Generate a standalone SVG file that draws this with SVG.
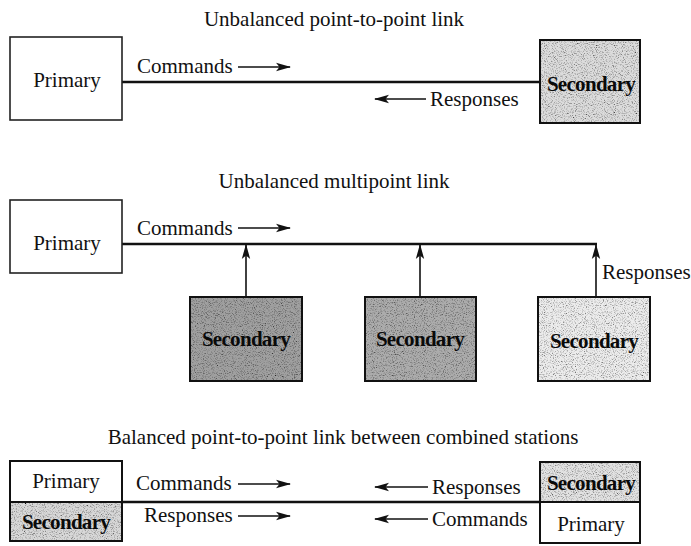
<svg xmlns="http://www.w3.org/2000/svg" width="691" height="546" viewBox="0 0 691 546">
  <style>
    .title { font-family: "Liberation Serif", "Times New Roman", serif; font-size: 21px; fill: #111; text-anchor: middle; }
    .lbl { font-family: "Liberation Serif", "Times New Roman", serif; font-size: 21px; fill: #111; }
    .nodeTxt { font-family: "Liberation Serif", "Times New Roman", serif; font-size: 21px; fill: #111; text-anchor: middle; }
    .secTxt { font-family: "Liberation Serif", "Times New Roman", serif; font-size: 21px; font-weight: bold; fill: #0a0a0a; text-anchor: middle; letter-spacing: -0.7px; }
    .box { fill: #fff; stroke: #222; stroke-width: 1.6; }
    .frame { fill: none; stroke: #111; stroke-width: 2; }
    .link { stroke: #111; stroke-width: 2.6; fill: none; }
    .arr { stroke: #111; stroke-width: 1.5; fill: none; marker-end: url(#head); }
    .drop { stroke: #111; stroke-width: 1.6; fill: none; marker-end: url(#head); }
  </style>
  <defs>
    <marker id="head" markerWidth="15" markerHeight="10" refX="14" refY="5" orient="auto" markerUnits="userSpaceOnUse">
      <path d="M0,0.8 L15,5 L0,9.2 L3.5,5 Z" fill="#111"/>
    </marker>
    <!-- speckled halftone used for the shaded stations -->
    <filter id="grain" x="0" y="0" width="1" height="1">
      <feTurbulence type="fractalNoise" baseFrequency="0.9" numOctaves="3" seed="7" result="noise"/>
      <feColorMatrix in="noise" type="matrix" values="2.2 0 0 0 -0.15  2.2 0 0 0 -0.15  2.2 0 0 0 -0.15  0 0 0 0 1" result="gray"/>
      <feComposite in="gray" in2="SourceGraphic" operator="in" result="clip"/>
      <feBlend in="clip" in2="SourceGraphic" mode="multiply"/>
    </filter>
  </defs>

  <!-- Titles -->
  <text class="title" x="334" y="26">Unbalanced point-to-point link</text>
  <text class="title" x="334" y="188">Unbalanced multipoint link</text>
  <text class="title" x="343" y="444">Balanced point-to-point link between combined stations</text>

  <!-- Connectors -->
  <g id="connectors">
    <!-- point-to-point -->
    <line class="link" x1="122" y1="82" x2="540" y2="82"/>
    <line class="arr" x1="238" y1="67" x2="290" y2="67"/>
    <line class="arr" x1="426" y1="99" x2="375" y2="99"/>
    <!-- multipoint -->
    <line class="link" x1="122" y1="244" x2="597" y2="244"/>
    <line class="arr" x1="238" y1="228" x2="290" y2="228"/>
    <line class="drop" x1="246" y1="297" x2="246" y2="245"/>
    <line class="drop" x1="420" y1="297" x2="420" y2="245"/>
    <line class="drop" x1="596" y1="297" x2="596" y2="245"/>
    <!-- balanced -->
    <line class="link" x1="122" y1="502" x2="540" y2="502"/>
    <line class="arr" x1="238" y1="484" x2="290" y2="484"/>
    <line class="arr" x1="238" y1="516" x2="290" y2="516"/>
    <line class="arr" x1="428" y1="487" x2="375" y2="487"/>
    <line class="arr" x1="428" y1="519" x2="375" y2="519"/>
  </g>

  <!-- Connector labels -->
  <g id="labels">
    <text class="lbl" x="137" y="73">Commands</text>
    <text class="lbl" x="430" y="106">Responses</text>
    <text class="lbl" x="137" y="235">Commands</text>
    <text class="lbl" x="602" y="279">Responses</text>
    <text class="lbl" x="136" y="490">Commands</text>
    <text class="lbl" x="144" y="522">Responses</text>
    <text class="lbl" x="432" y="494">Responses</text>
    <text class="lbl" x="432" y="526">Commands</text>
  </g>

  <!-- Unbalanced point-to-point -->
  <g id="p2p-primary">
    <rect class="box" x="10" y="37" width="112" height="83"/>
    <text class="nodeTxt" x="67" y="87">Primary</text>
  </g>
  <g id="p2p-secondary">
    <rect x="540" y="40" width="100" height="83" fill="#dcdcdc" filter="url(#grain)"/>
    <rect class="frame" x="540" y="40" width="100" height="83"/>
    <text class="secTxt" x="591" y="91">Secondary</text>
  </g>

  <!-- Unbalanced multipoint -->
  <g id="mp-primary">
    <rect class="box" x="10" y="200" width="112" height="73"/>
    <text class="nodeTxt" x="67" y="250">Primary</text>
  </g>
  <g id="mp-secondary-1">
    <rect x="190" y="297" width="112" height="84" fill="#a0a0a0" filter="url(#grain)"/>
    <rect class="frame" x="190" y="297" width="112" height="84"/>
    <text class="secTxt" x="246" y="346">Secondary</text>
  </g>
  <g id="mp-secondary-2">
    <rect x="365" y="297" width="111" height="84" fill="#acacac" filter="url(#grain)"/>
    <rect class="frame" x="365" y="297" width="111" height="84"/>
    <text class="secTxt" x="420" y="346">Secondary</text>
  </g>
  <g id="mp-secondary-3">
    <rect x="538" y="297" width="112" height="84" fill="#ececec" filter="url(#grain)"/>
    <rect class="frame" x="538" y="297" width="112" height="84"/>
    <text class="secTxt" x="594" y="348">Secondary</text>
  </g>

  <!-- Balanced combined stations -->
  <g id="combined-left">
    <rect class="box" x="10" y="461" width="112" height="41"/>
    <rect x="10" y="502" width="112" height="39" fill="#d8d8d8" filter="url(#grain)"/>
    <rect class="frame" x="10" y="461" width="112" height="80"/>
    <line x1="10" y1="502" x2="122" y2="502" stroke="#111" stroke-width="2"/>
    <text class="nodeTxt" x="66" y="488">Primary</text>
    <text class="secTxt" x="66" y="529">Secondary</text>
  </g>
  <g id="combined-right">
    <rect x="540" y="462" width="100" height="40" fill="#e2e2e2" filter="url(#grain)"/>
    <rect class="box" x="540" y="502" width="100" height="41"/>
    <rect class="frame" x="540" y="462" width="100" height="81"/>
    <line x1="540" y1="502" x2="640" y2="502" stroke="#111" stroke-width="2"/>
    <text class="secTxt" x="591" y="490">Secondary</text>
    <text class="nodeTxt" x="591" y="531">Primary</text>
  </g>
</svg>
